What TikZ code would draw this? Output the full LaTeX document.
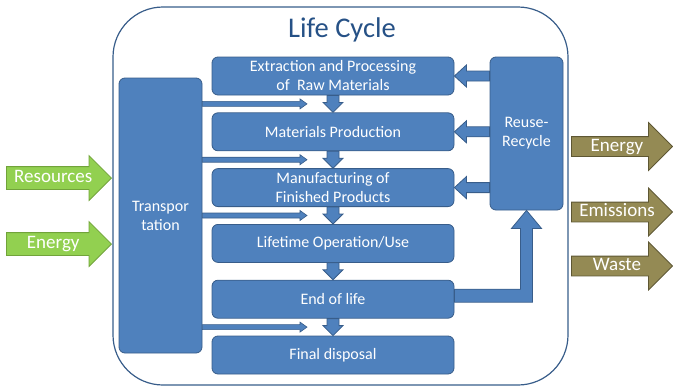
\documentclass[tikz,border=0pt]{standalone}
\usepackage{fontspec}
\setmainfont{Carlito}
\usepackage{tikz}
\usetikzlibrary{positioning,calc,shapes.arrows}

\definecolor{boxblue}{RGB}{79,129,189}
\definecolor{lineblue}{RGB}{56,93,138}
\definecolor{titleblue}{RGB}{38,81,134}
\definecolor{leafgreen}{RGB}{146,208,80}
\definecolor{leafline}{RGB}{113,163,58}
\definecolor{olive}{RGB}{148,138,84}
\definecolor{oliveline}{RGB}{94,87,51}

% block arrows between named boxes
\newcommand{\downblock}[2]{%
  \filldraw[blk] let \p1=(#1.south), \p2=(#2.north) in
    (\x1-6pt,\y1) -- (\x1+6pt,\y1) -- (\x1+6pt,\y2+10pt) -- (\x1+10pt,\y2+10pt)
    -- (\x1,\y2) -- (\x1-10pt,\y2+10pt) -- (\x1-6pt,\y2+10pt) -- cycle;}
\newcommand{\leftblock}[2]{%
  \filldraw[blk] let \p1=(#1.west |- #2.east), \p2=(#2.east) in
    (\x1,\y1+5pt) -- (\x2+12pt,\y1+5pt) -- (\x2+12pt,\y1+11pt) -- (\x2,\y1)
    -- (\x2+12pt,\y1-11pt) -- (\x2+12pt,\y1-5pt) -- (\x1,\y1-5pt) -- cycle;}
\newcommand{\thinright}[2]{%
  \filldraw[blk, line width=0.6pt] let \p1=(#1.east |- #2), \p2=(#2) in
    (\x1,\y1+2.5pt) -- (\x2-7pt,\y1+2.5pt) -- (\x2-7pt,\y1+5pt) -- (\x2,\y1)
    -- (\x2-7pt,\y1-5pt) -- (\x2-7pt,\y1-2.5pt) -- (\x1,\y1-2.5pt) -- cycle;}

\begin{document}
\begin{tikzpicture}[x=1pt, y=1pt, node distance={17pt},
    proc/.style = {draw=lineblue, fill=boxblue, line width=0.8pt, rounded corners=6pt,
      text=white, align=center, font=\fontsize{16}{19}\selectfont,
      minimum width=242pt, minimum height=38pt, inner sep=1pt},
    blk/.style = {draw=lineblue, fill=boxblue, line width=0.8pt},
    inarrow/.style = {single arrow, draw=leafline, fill=leafgreen, line width=0.8pt,
      text=white, font=\fontsize{19}{21}\selectfont, single arrow head extend=11pt,
      single arrow tip angle=90, minimum height=105pt, text height=12.5pt,
      text depth=3.5pt, inner ysep=3pt, inner xsep=1pt, anchor=tip},
    outarrow/.style = {single arrow, draw=oliveline, fill=olive, line width=0.8pt,
      text=white, font=\fontsize{19}{21}\selectfont, single arrow head extend=14pt,
      single arrow tip angle=90, minimum height=101pt, text height=12.5pt,
      text depth=3.5pt, inner ysep=1.5pt, inner xsep=1pt, anchor=tip}]
    \useasboundingbox (0,0) rectangle (673,-391);

    \draw[lineblue, line width=1.2pt, rounded corners=50pt] (113,-7) rectangle (568,-385);
    \node[text=titleblue, font=\fontsize{28.5}{32}\selectfont] (title) at (342,-30) {Life Cycle};

    % the stages
    \node[proc] (ext) at (333,-76) {Extraction and Processing\\of \ Raw Materials};
    \node[proc, below=of ext] (mat) {Materials Production};
    \node[proc, below=of mat] (manu) {Manufacturing of\\Finished Products};
    \node[proc, below=of manu] (use) {Lifetime Operation/Use};
    \node[proc, below=of use] (eol) {End of life};
    \node[proc, below=of eol] (disp) {Final disposal};

    \node[proc, minimum width=83pt, minimum height=275pt] (trans) at (160.5,-215.5) {Transpor\\tation};
    \node[proc, minimum width=73pt, minimum height=153pt] (reuse) at (526.5,-133.5) {Reuse-\\Recycle};

    \downblock{ext}{mat}
    \downblock{mat}{manu}
    \downblock{manu}{use}
    \downblock{use}{eol}
    \downblock{eol}{disp}

    \leftblock{reuse}{ext}
    \leftblock{reuse}{mat}
    \leftblock{reuse}{manu}

    % transport feeds
    \coordinate (t1) at ($(ext.south)!0.5!(mat.north)+(-26,0)$);
    \coordinate (t2) at ($(mat.south)!0.5!(manu.north)+(-26,0)$);
    \coordinate (t3) at ($(manu.south)!0.5!(use.north)+(-26,0)$);
    \coordinate (t4) at ($(eol.south)!0.5!(disp.north)+(-26,0)$);
    \thinright{trans}{t1}
    \thinright{trans}{t2}
    \thinright{trans}{t3}
    \thinright{trans}{t4}

    % back to reuse
    \filldraw[blk] let \p1=(eol.east), \p2=(reuse.south) in
      (\x1,\y1+10pt) -- (\x2-6pt,\y1+10pt) -- (\x2-6pt,\y2-18pt) -- (\x2-15pt,\y2-18pt)
      -- (\x2,\y2) -- (\x2+15pt,\y2-18pt) -- (\x2+6pt,\y2-18pt) -- (\x2+6pt,\y1-3pt)
      -- (\x1,\y1-3pt) -- cycle;

    % inputs and outputs
    \node[inarrow] (res) at (112,-178) {Resources};
    \node[inarrow] (ein) at (112,-244) {Energy};
    \node[outarrow] (eout) at (673,-146.5) {Energy};
    \node[outarrow] (emis) at (673,-212) {Emissions};
    \node[outarrow] (waste) at (673,-266) {Waste};
\end{tikzpicture}
\end{document}
